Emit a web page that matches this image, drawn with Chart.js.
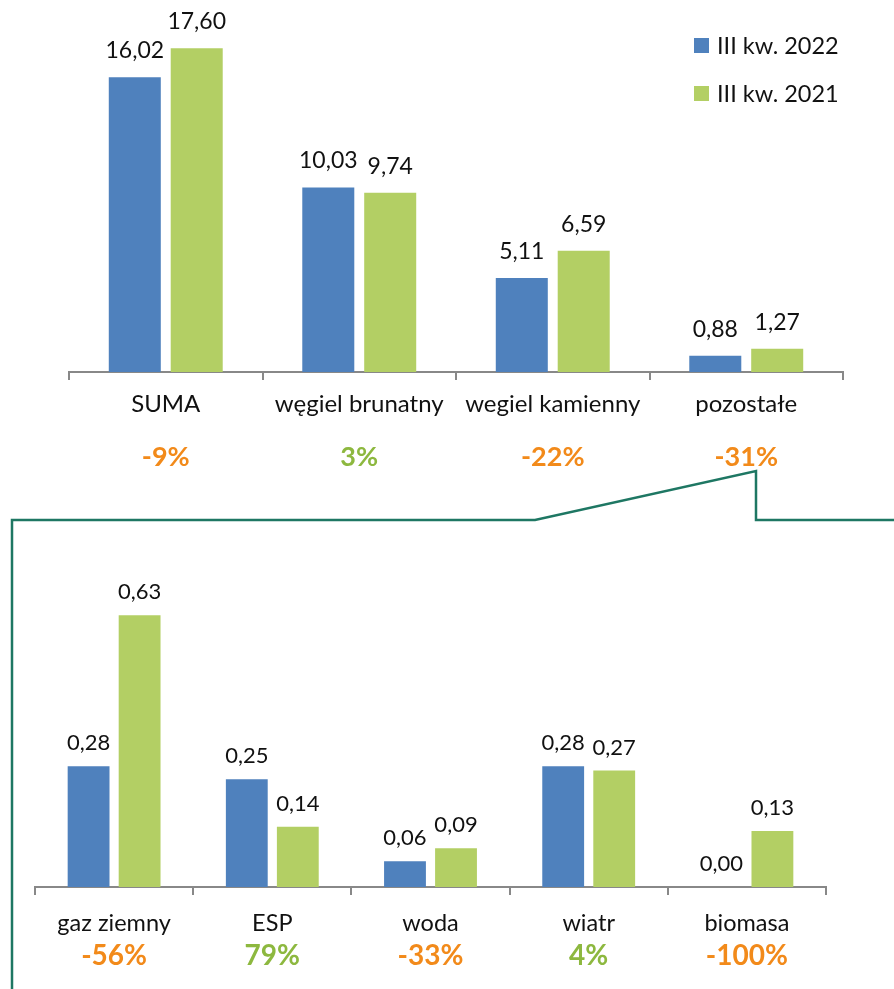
<!DOCTYPE html>
<html>
<head>
<meta charset="utf-8">
<script src="https://cdn.jsdelivr.net/npm/chart.js@4"></script>
<style>
  body { margin: 0; background: #fff; }
  #wrap { position: relative; width: 894px; height: 989px; overflow: hidden; font-family: Lato, sans-serif; }
  canvas { position: absolute; left: 0; }
  #topChart { top: 0; }
  #botChart { top: 530px; }
  #frame { position: absolute; left: 0; top: 0; }
  #legend { position: absolute; left: 694px; top: 21px; }
  .lg { display: flex; align-items: center; height: 48px; font-size: 23.5px; color: #111; }
  .lg i { display: inline-block; width: 15px; height: 15px; margin-right: 8px; }
</style>
</head>
<body>
<div id="wrap">
  <canvas id="topChart" width="894" height="484"></canvas>
  <canvas id="botChart" width="894" height="459"></canvas>
  <svg id="frame" width="894" height="989">
    <polyline points="12,989 12,520 535,520 756,471 756,520 894,520" fill="none" stroke="#1E7763" stroke-width="2.5"/>
  </svg>
  <div id="legend"></div>
</div>
<script>
const topCats = ['SUMA', 'węgiel brunatny', 'wegiel kamienny', 'pozostałe'];
const top2022 = [16.02, 10.03, 5.11, 0.88];
const top2021 = [17.60, 9.74, 6.59, 1.27];
const topPct = ['-9%', '3%', '-22%', '-31%'];

const botCats = ['gaz ziemny', 'ESP', 'woda', 'wiatr', 'biomasa'];
const bot2022 = [0.28, 0.25, 0.06, 0.28, 0.00];
const bot2021 = [0.63, 0.14, 0.09, 0.27, 0.13];
const botPct = ['-56%', '79%', '-33%', '4%', '-100%'];

const seriesNames = ['III kw. 2022', 'III kw. 2021'];
const BLUE = '#4F81BD';
const GREEN = '#B3CF64';
const ORANGE = '#F28A1A';
const PCT_GREEN = '#8DB83F';
const AXIS = '#888888';

const pctColor = (list) => (c) => list[c.index].startsWith('-') ? ORANGE : PCT_GREEN;

// value labels above bars
const valueLabels = {
  id: 'valueLabels',
  afterDatasetsDraw(chart, args, opts) {
    const ctx = chart.ctx;
    ctx.save();
    ctx.font = opts.size + 'px Lato';
    ctx.fillStyle = '#111';
    ctx.textAlign = 'center';
    ctx.textBaseline = 'alphabetic';
    chart.data.datasets.forEach((ds, i) => {
      chart.getDatasetMeta(i).data.forEach((bar, j) => {
        ctx.fillText(ds.data[j].toFixed(2).replace('.', ','), bar.x, bar.y - opts.gap);
      });
    });
    ctx.restore();
  }
};

function makeChart(id, cats, a, b, pct, cfg) {
  return new Chart(document.getElementById(id).getContext('2d'), {
    type: 'bar',
    data: {
      labels: cats,
      datasets: [
        { label: seriesNames[0], data: a, backgroundColor: BLUE, categoryPercentage: cfg.catPct, barPercentage: cfg.barPct },
        { label: seriesNames[1], data: b, backgroundColor: GREEN, categoryPercentage: cfg.catPct, barPercentage: cfg.barPct }
      ]
    },
    options: {
      responsive: false,
      animation: false,
      layout: { padding: cfg.pad },
      plugins: {
        legend: { display: false },
        tooltip: { enabled: false },
        valueLabels: { size: cfg.valSize, gap: cfg.valGap }
      },
      scales: {
        y: { display: false, min: 0, max: cfg.max },
        x: {
          position: 'bottom',
          grid: { offset: true, drawOnChartArea: false, drawTicks: true, tickLength: 8, color: AXIS, lineWidth: 2 },
          border: { color: AXIS, width: 2 },
          ticks: { color: '#111', font: { family: 'Lato', size: cfg.catSize }, padding: cfg.catPad, maxRotation: 0, autoSkip: false },
          afterFit: (s) => { s.height = cfg.xH; }
        },
        x2: {
          type: 'category',
          labels: pct,
          position: 'bottom',
          offset: true,
          grid: { display: false, drawTicks: false },
          border: { display: false },
          ticks: { color: pctColor(pct), font: { family: 'Lato', size: cfg.pctSize, weight: 'bold' }, padding: cfg.pctPad, maxRotation: 0, autoSkip: false },
          afterFit: (s) => { s.height = cfg.x2H; }
        }
      }
    },
    plugins: [valueLabels]
  });
}

makeChart('topChart', topCats, top2022, top2021, topPct, {
  catPct: 0.64, barPct: 0.84, max: 20,
  pad: { left: 69, right: 51, top: 4, bottom: 0 },
  valSize: 23, valGap: 19,
  catSize: 24, catPad: 10, xH: 52,
  pctSize: 27, pctPad: 17, x2H: 60
});

makeChart('botChart', botCats, bot2022, bot2021, botPct, {
  catPct: 0.645, barPct: 0.82, max: 0.8,
  pad: { left: 35, right: 68, top: 12, bottom: 0 },
  valSize: 22, valGap: 16,
  catSize: 23.5, catPad: 14, xH: 48,
  pctSize: 28, pctPad: 4, x2H: 54
});

// legend
const legend = document.getElementById('legend');
[BLUE, GREEN].forEach((c, i) => {
  const row = document.createElement('div');
  row.className = 'lg';
  row.innerHTML = '<i style="background:' + c + '"></i>' + seriesNames[i];
  legend.appendChild(row);
});
</script>
</body>
</html>
